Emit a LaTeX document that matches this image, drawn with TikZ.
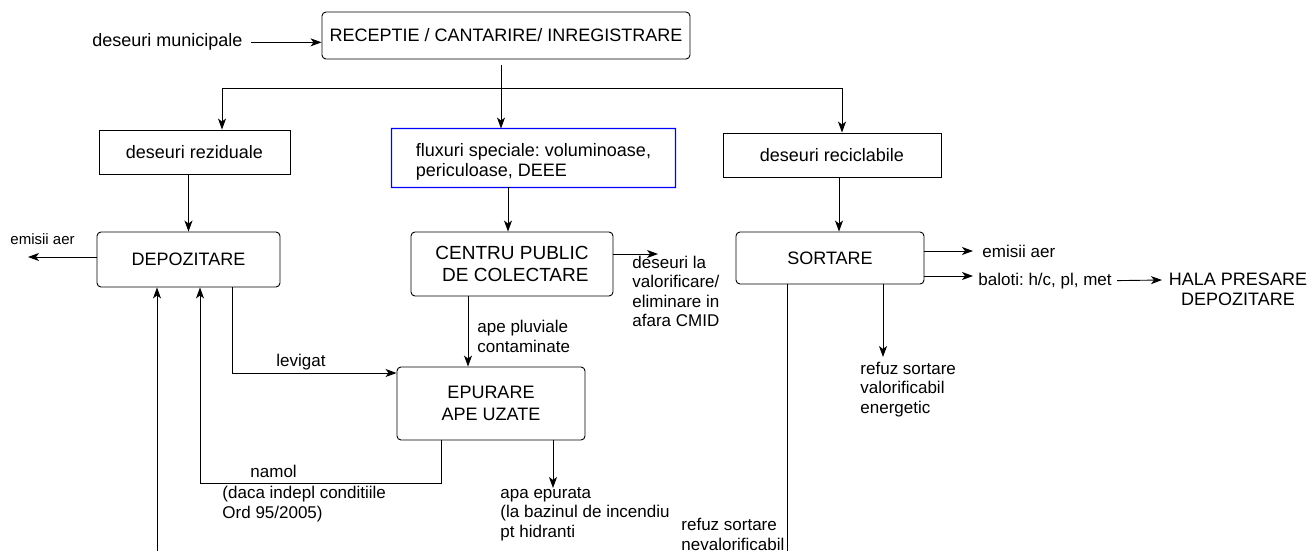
\documentclass[tikz,border=0pt]{standalone}
\usepackage{fontspec}
\setmainfont{Liberation Sans}
\usetikzlibrary{arrows.meta}
\definecolor{fluxblue}{RGB}{0,0,255}
\frenchspacing
\begin{document}
\begin{tikzpicture}[x=1pt,y=-1pt,
  line width=0.9pt,
  arr/.style={-{Stealth[length=11pt,width=8pt,inset=3pt]}},
  lbl/.style={inner sep=0pt, anchor=base west, align=left, font=\fontsize{17}{19.3}\selectfont},
  boxsq/.style={draw, inner sep=0pt, font=\fontsize{18}{21}\selectfont},
  boxrd/.style={boxsq, rounded corners=4pt},
]
\useasboundingbox (0,0) rectangle (1312,551);

% boxes
\node[boxrd, minimum width=368, minimum height=47] (rec) at (506,35.5) {RECEPTIE / CANTARIRE/ INREGISTRARE};
\node[boxsq, minimum width=191, minimum height=44] (rez) at (194.5,152) {deseuri reziduale};
\node[inner sep=0pt, minimum width=283, minimum height=58, align=left, font=\fontsize{18}{20}\selectfont] (flux) at (533.5,158) {\rule{0pt}{20pt}fluxuri speciale: voluminoase,\\periculoase, DEEE};
\fill[fluxblue, even odd rule]
  ([shift={(-0.6,-0.6)}]flux.north west) rectangle ([shift={(0.6,0.6)}]flux.south east)
  ([shift={(0.6,0.6)}]flux.north west) rectangle ([shift={(-0.6,-0.6)}]flux.south east);
\node[boxsq, minimum width=218, minimum height=44] (recy) at (832,155) {deseuri reciclabile};
\node[boxrd, minimum width=183, minimum height=55] (dep) at (188.5,259.5) {DEPOZITARE};
\node[boxrd, minimum width=202, minimum height=64, align=right, font=\fontsize{19}{22}\selectfont] (cen) at (512,264) {CENTRU PUBLIC\\DE COLECTARE};
\node[boxrd, minimum width=188, minimum height=52] (sort) at (830,258) {SORTARE};
\node[boxrd, minimum width=188, minimum height=73, align=center, font=\fontsize{18}{22}\selectfont] (epu) at (491,403.5) {EPURARE\\APE UZATE};

% labels (base = baseline of the last line)
\node[lbl, font=\fontsize{18}{20}\selectfont] (dm) at (92,47) {deseuri municipale};
\node[lbl, font=\fontsize{15}{18}\selectfont] (ea1) at (10,244) {emisii aer};
\node[lbl] (lev) at (276,366) {levigat};
\node[lbl] (nam) at (250,477) {namol};
\node[lbl] (dac) at (222,518) {(daca indepl conditiile\\Ord 95/2005)};
\node[lbl] (apl) at (477,352) {ape pluviale\\contaminate};
\node[lbl] (dla) at (632,326.5) {deseuri la\\valorificare/\\eliminare in\\afara CMID};
\node[lbl] (apa) at (500,537) {apa epurata\\(la bazinul de incendiu\\pt hidranti};
\node[lbl] (rsn) at (681,550) {refuz sortare\\nevalorificabil};
\node[lbl] (rsv) at (860,413) {refuz sortare\\valorificabil\\energetic};
\node[lbl] (ea2) at (982,257) {emisii aer};
\node[lbl] (bal) at (978,285) {baloti: h/c, pl, met};
\node[lbl, align=center, anchor=base, font=\fontsize{18}{20}\selectfont] (hala) at (1238,305) {HALA PRESARE\\DEPOZITARE};

% coordinates
\coordinate (j1) at (501,65);
\coordinate (hl) at (222,88);
\coordinate (hr) at (842,88);
\coordinate (ea1t) at (28,257);
\coordinate (b1) at (157,551);
\coordinate (lv) at (232,373);
\coordinate (nm) at (441,483);
\coordinate (nm2) at (200,483);
\coordinate (fc) at (508,200);
\coordinate (dlt) at (658,254);
\coordinate (apx) at (468,330);
\coordinate (aet) at (553,488);
\coordinate (rs) at (839,200);
\coordinate (se1) at (973,251);
\coordinate (se2) at (973,276);
\coordinate (s1) at (787,551);
\coordinate (s2) at (883,357);
\coordinate (hb) at (1162,280);

% connectors
\draw[arr] ([xshift=8pt]dm.east) -- (rec.west |- dm.east);
\draw[arr] (j1) -- (j1 |- flux.north);
\draw[arr] (hr) -- (hl) -- (hl |- rez.north);
\draw[arr] (hr) -- (hr |- recy.north);
\draw[arr] (rez.south -| dep.north) -- (dep.north);
\draw[arr] (dep.west |- ea1t) -- (ea1t);
\draw[arr] (b1) -- (b1 |- dep.south);
\draw[arr] (lv |- dep.south) -- (lv) -- (lv -| epu.west);
\draw[arr] (nm |- epu.south) -- (nm) -- (nm2) -- (nm2 |- dep.south);
\draw[arr] (fc |- flux.south) -- (fc |- cen.north);
\draw[arr] (cen.east |- dlt) -- (dlt);
\draw[arr] (apx |- cen.south) -- (apx |- epu.north);
\draw[arr] (aet |- epu.south) -- (aet);
\draw[arr] (rs |- recy.south) -- (rs |- sort.north);
\draw[arr] (sort.east |- se1) -- (se1);
\draw[arr] (sort.east |- se2) -- (se2);
\draw[arr] ([xshift=5pt]bal.east) -- (hb);
\draw (s1 |- sort.south) -- (s1);
\draw[arr] (s2 |- sort.south) -- (s2);
\end{tikzpicture}
\end{document}
